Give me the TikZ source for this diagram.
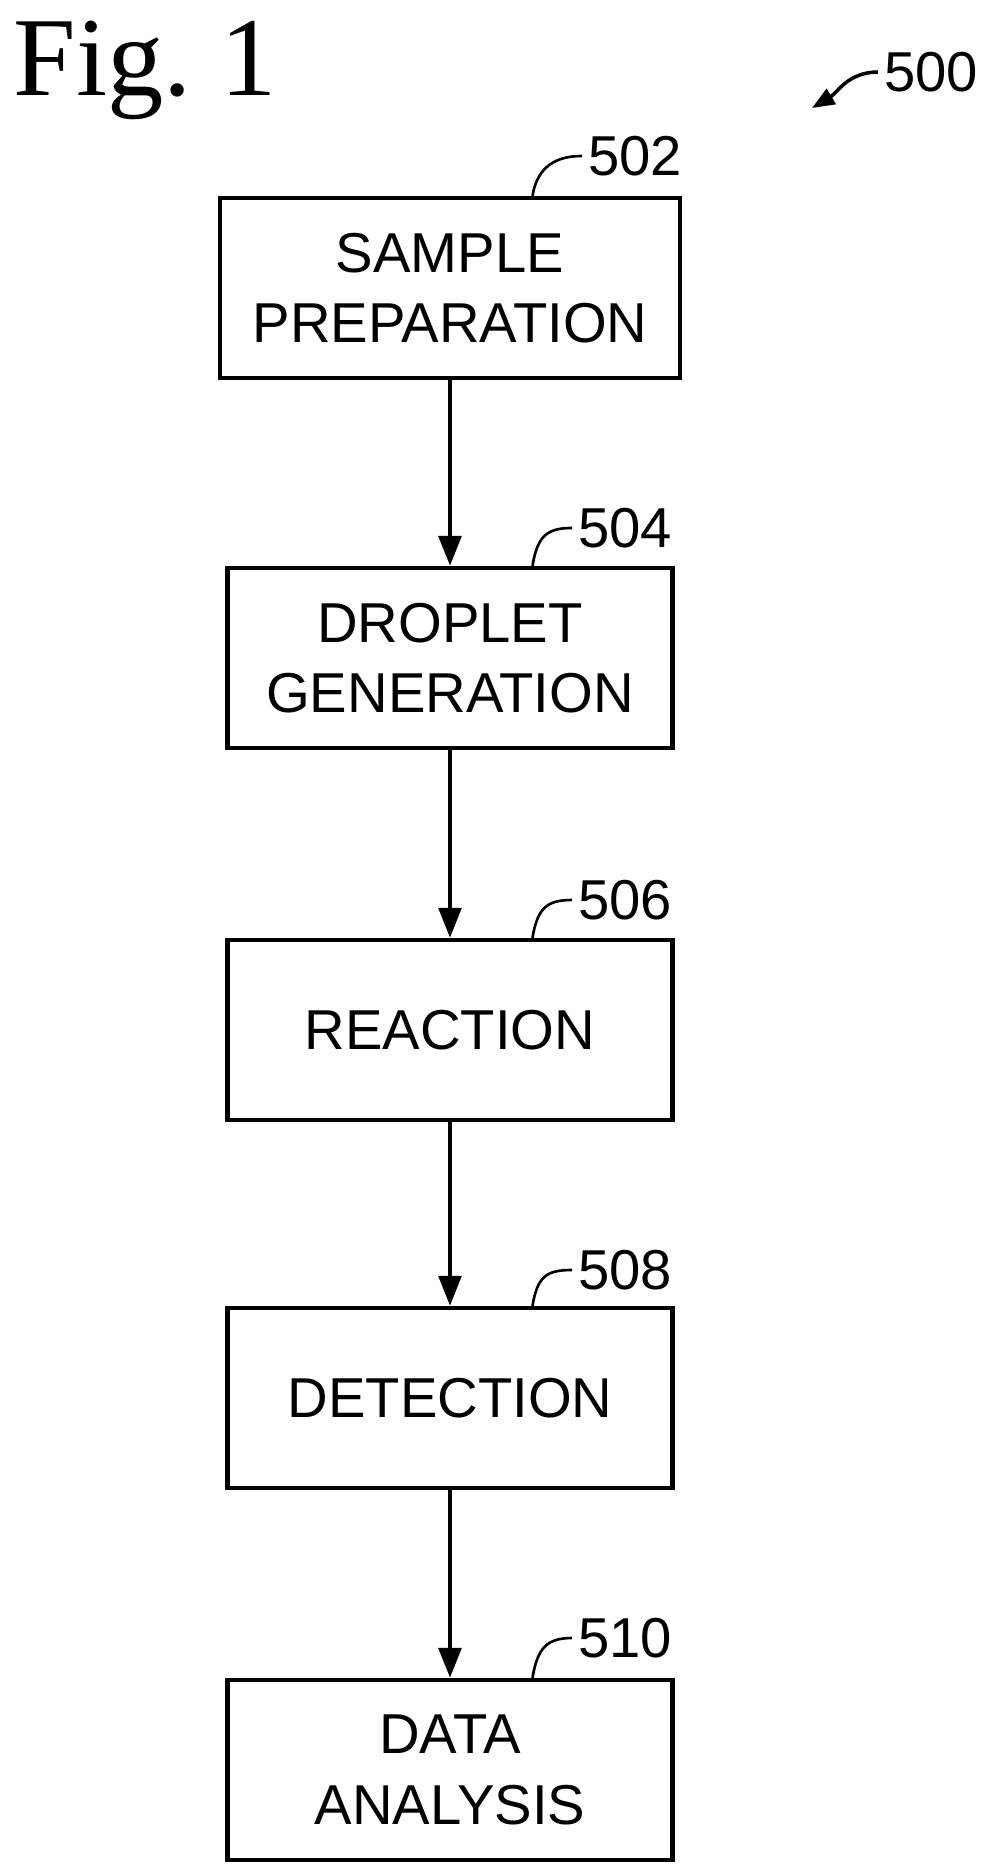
\documentclass[tikz,border=0pt]{standalone}
\usepackage{fontspec}
\setmainfont{Liberation Serif}
\newfontfamily\lab{Liberation Sans}
\usetikzlibrary{arrows.meta}
\begin{document}
\begin{tikzpicture}[x=0.02cm,y=-0.02cm,
  box/.style={draw,line width=2.5pt,minimum width=8.9cm,minimum height=3.6cm,align=center,font=\lab\fontsize{32}{40}\selectfont,inner sep=0pt},
  ref/.style={font=\lab\fontsize{32}{34}\selectfont,anchor=west},
  flow/.style={line width=2.5pt,-{Triangle[length=0.6cm,width=0.45cm]}},
  sq/.style={line width=1.5pt}]
\useasboundingbox (0,0) rectangle (996,1871);
\node[font=\fontsize{64}{64}\selectfont] (fig) at (145,70) {Fig.\ 1};
\node[box,minimum width=9.2cm] (b1) at (450,288) {SAMPLE\\PREPARATION};
\node[box] (b2) at (450,658) {DROPLET\\GENERATION};
\node[box] (b3) at (450,1030) {REACTION};
\node[box] (b4) at (450,1398) {DETECTION};
\node[box] (b5) at (450,1770) {DATA\\ANALYSIS};
\draw[flow] (b1) -- (b2);
\draw[flow] (b2) -- (b3);
\draw[flow] (b3) -- (b4);
\draw[flow] (b4) -- (b5);
\node[ref] (r502) at (582,156) {502};
\node[ref] (r504) at (572,528) {504};
\node[ref] (r506) at (572,900) {506};
\node[ref] (r508) at (572,1270) {508};
\node[ref] (r510) at (572,1638) {510};
\node[ref] (r500) at (878,72) {500};
\foreach \b/\r in {b1/r502,b2/r504,b3/r506,b4/r508,b5/r510}
  \draw[sq] ([xshift=1.65cm]\b.north) .. controls +(5,-30) and +(-25,0) .. (\r.west);
\draw[line width=2pt,-{Triangle[length=0.45cm,width=0.35cm]}] (r500.west) .. controls +(-30,0) and +(25,-15) .. ++(-66,36);
\end{tikzpicture}
\end{document}
